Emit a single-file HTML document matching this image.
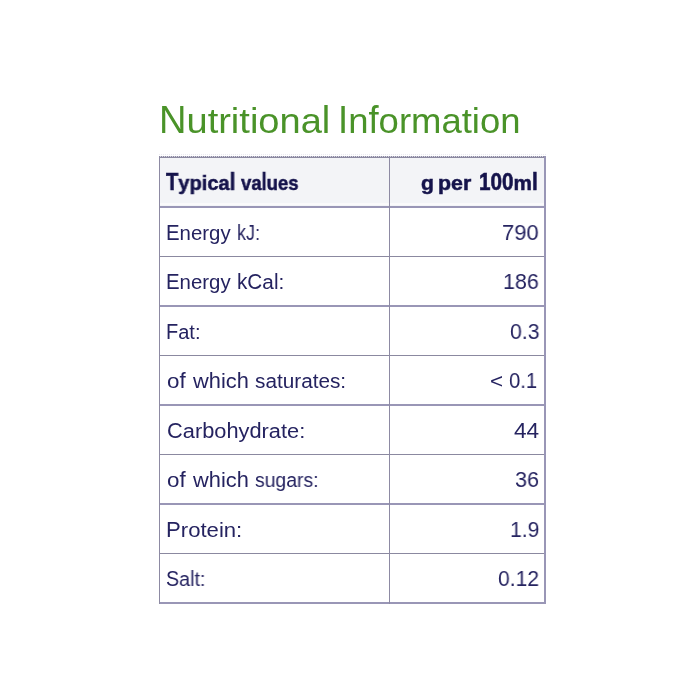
<!DOCTYPE html>
<html><head><meta charset="utf-8">
<style>
html,body{margin:0;padding:0;background:#fff;width:700px;height:700px;overflow:hidden;}
body{font-family:"Liberation Sans",sans-serif;position:relative;}
.t{position:absolute;line-height:1;white-space:pre;transform-origin:0 0;will-change:transform;}
.title{color:#4a9329;}
.hdr{font-weight:bold;color:#15134b;-webkit-text-stroke:0.5px #15134b;}
.lab{color:#252360;}
.u{display:inline-block;transform-origin:50% 84.65%;}
.h{position:absolute;left:159px;width:387px;background:#8b89a0;}
.h2{background:#9996b6;}
.v{position:absolute;background:#8d8aa3;}
.hbg{position:absolute;left:160px;top:158px;width:384px;height:48px;background:#f3f4f7;}
.hstrip{position:absolute;left:160px;top:203px;width:384px;height:2px;background:#fafafb;}
.dots{position:absolute;left:159px;top:156px;width:387px;height:1px;background:repeating-linear-gradient(90deg,#8d8aa3 0 1px,#d6d5e0 1px 2px);}
</style></head><body>
<div class="hbg"></div>
<div class="hstrip"></div>
<div class="dots"></div>
<div class="dots" style="top:154px;background:repeating-linear-gradient(90deg,#ecebf2 0 1px,#ffffff 1px 2px)"></div>
<div class="h" style="top:157px;height:1px"></div>
<div class="h h2" style="top:206px;height:2px"></div>
<div class="h" style="top:256px;height:1px"></div>
<div class="h h2" style="top:305px;height:2px"></div>
<div class="h" style="top:355px;height:1px"></div>
<div class="h h2" style="top:404px;height:2px"></div>
<div class="h" style="top:454px;height:1px"></div>
<div class="h h2" style="top:503px;height:2px"></div>
<div class="h" style="top:553px;height:1px"></div>
<div class="h h2" style="top:602px;height:2px"></div>
<div class="v" style="left:159px;top:156px;width:1px;height:448px"></div>
<div class="v" style="left:389px;top:156px;width:1px;height:448px"></div>
<div class="v" style="left:544px;top:156px;width:2px;height:448px;background:#9996b6"></div>
<div class="t title" style="left:158.84px;top:103.00px;font-size:35.0px;transform:scaleX(1.0868)"><span class="u" style="transform:scaleY(1.1)">N</span>utritiona<span class="u" style="transform:scaleY(1.1)">l</span></div>
<div class="t title" style="left:338.27px;top:103.00px;font-size:35.0px;transform:scaleX(1.0424)"><span class="u" style="transform:scaleY(1.1)">I</span>n<span class="u" style="transform:scaleY(1.1)">f</span>ormation</div>
<div class="t hdr" style="left:166.00px;top:173.00px;font-size:20.5px;transform:scaleX(0.9797)"><span class="u" style="transform:scaleY(1.17)">T</span>ypica<span class="u" style="transform:scaleY(1.17)">l</span></div>
<div class="t hdr" style="left:240.90px;top:173.00px;font-size:20.5px;transform:scaleX(0.9000)">va<span class="u" style="transform:scaleY(1.17)">l</span>ues</div>
<div class="t hdr" style="left:420.67px;top:173.00px;font-size:20.5px;transform:scaleX(1.0300)">g</div>
<div class="t hdr" style="left:438.16px;top:173.00px;font-size:20.5px;transform:scaleX(1.0419)">per</div>
<div class="t hdr" style="left:478.99px;top:173.00px;font-size:20.5px;transform:scaleX(1.0107)"><span class="u" style="transform:scaleY(1.17)">1</span><span class="u" style="transform:scaleY(1.17)">0</span><span class="u" style="transform:scaleY(1.17)">0</span>m<span class="u" style="transform:scaleY(1.17)">l</span></div>
<div class="t lab" style="left:165.76px;top:222.70px;font-size:20.0px;transform:scaleX(1.0197)"><span class="u" style="transform:scaleY(1.14)">E</span>nergy</div>
<div class="t lab" style="left:236.85px;top:222.70px;font-size:20.0px;transform:scaleX(0.9000)"><span class="u" style="transform:scaleY(1.14)">k</span><span class="u" style="transform:scaleY(1.14)">J</span>:</div>
<div class="t lab" style="left:501.92px;top:221.70px;font-size:22.5px;transform:scaleX(0.9778)">790</div>
<div class="t lab" style="left:165.76px;top:271.60px;font-size:20.0px;transform:scaleX(1.0197)"><span class="u" style="transform:scaleY(1.14)">E</span>nergy</div>
<div class="t lab" style="left:237.26px;top:271.60px;font-size:20.0px;transform:scaleX(1.0372)"><span class="u" style="transform:scaleY(1.14)">k</span><span class="u" style="transform:scaleY(1.14)">C</span>a<span class="u" style="transform:scaleY(1.14)">l</span>:</div>
<div class="t lab" style="left:502.69px;top:270.60px;font-size:22.5px;transform:scaleX(0.9543)">186</div>
<div class="t lab" style="left:165.81px;top:321.60px;font-size:20.0px;transform:scaleX(0.9968)"><span class="u" style="transform:scaleY(1.14)">F</span>at:</div>
<div class="t lab" style="left:509.66px;top:320.60px;font-size:22.5px;transform:scaleX(0.9448)">0.3</div>
<div class="t lab" style="left:166.67px;top:371.00px;font-size:20.0px;transform:scaleX(1.1200)">o<span class="u" style="transform:scaleY(1.14)">f</span></div>
<div class="t lab" style="left:192.90px;top:371.00px;font-size:20.0px;transform:scaleX(1.0900)">w<span class="u" style="transform:scaleY(1.14)">h</span>ic<span class="u" style="transform:scaleY(1.14)">h</span></div>
<div class="t lab" style="left:254.96px;top:371.00px;font-size:20.0px;transform:scaleX(1.0376)">saturates:</div>
<div class="t lab" style="left:490.28px;top:371.00px;font-size:20.0px;transform:scaleX(1.1200)">&lt;</div>
<div class="t lab" style="left:508.95px;top:370.00px;font-size:22.5px;transform:scaleX(0.9000)">0.1</div>
<div class="t lab" style="left:166.71px;top:421.00px;font-size:20.0px;transform:scaleX(1.0903)"><span class="u" style="transform:scaleY(1.14)">C</span>ar<span class="u" style="transform:scaleY(1.14)">b</span>o<span class="u" style="transform:scaleY(1.14)">h</span>y<span class="u" style="transform:scaleY(1.14)">d</span>rate:</div>
<div class="t lab" style="left:513.90px;top:420.00px;font-size:22.5px;transform:scaleX(1.0043)">44</div>
<div class="t lab" style="left:166.67px;top:469.80px;font-size:20.0px;transform:scaleX(1.1200)">o<span class="u" style="transform:scaleY(1.14)">f</span></div>
<div class="t lab" style="left:192.90px;top:469.80px;font-size:20.0px;transform:scaleX(1.0900)">w<span class="u" style="transform:scaleY(1.14)">h</span>ic<span class="u" style="transform:scaleY(1.14)">h</span></div>
<div class="t lab" style="left:255.03px;top:469.80px;font-size:20.0px;transform:scaleX(0.9698)">sugars:</div>
<div class="t lab" style="left:514.94px;top:468.80px;font-size:22.5px;transform:scaleX(0.9609)">36</div>
<div class="t lab" style="left:165.59px;top:519.70px;font-size:20.0px;transform:scaleX(1.1062)"><span class="u" style="transform:scaleY(1.14)">P</span>rotein:</div>
<div class="t lab" style="left:509.82px;top:518.70px;font-size:22.5px;transform:scaleX(0.9393)">1.9</div>
<div class="t lab" style="left:166.32px;top:569.00px;font-size:20.0px;transform:scaleX(0.9838)"><span class="u" style="transform:scaleY(1.14)">S</span>a<span class="u" style="transform:scaleY(1.14)">l</span>t:</div>
<div class="t lab" style="left:497.66px;top:568.00px;font-size:22.5px;transform:scaleX(0.9381)">0.12</div>
</body></html>
